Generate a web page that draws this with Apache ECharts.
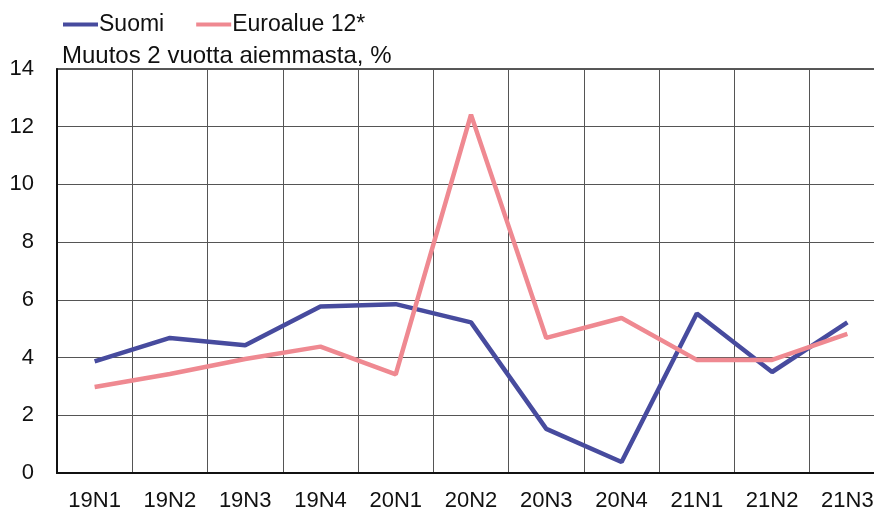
<!DOCTYPE html>
<html>
<head>
<meta charset="utf-8">
<script src="https://cdn.jsdelivr.net/npm/echarts@6/dist/echarts.min.js"></script>
<style>
    html, body { margin: 0; padding: 0; background: #fff; overflow: hidden; }
    /* kuva on rajattu oikealta: piirretään leveämmälle alustalle */
    #chart { width: 885px; height: 512px; }
</style>
</head>
<body>
<div id="chart"></div>
<script>
// neljännekset
const categories = ['19N1', '19N2', '19N3', '19N4', '20N1', '20N2', '20N3', '20N4', '21N1', '21N2', '21N3'];
// muutos 2 vuotta aiemmasta, %
const suomi = [3.87, 4.68, 4.43, 5.77, 5.85, 5.22, 1.53, 0.38, 5.53, 3.5, 5.22];
const euroalue = [2.98, 3.43, 3.95, 4.38, 3.42, 12.42, 4.68, 5.37, 3.92, 3.92, 4.82];
const yTicks = [0, 2, 4, 6, 8, 10, 12, 14];

const font = 'Liberation Sans, Arial, sans-serif';
const chart = echarts.init(document.getElementById('chart'));

let option = {
    animation: false,
    backgroundColor: '#fff',
    textStyle: { fontFamily: font },
    title: {
        text: 'Muutos 2 vuotta aiemmasta, %',
        left: 57,
        top: 39,
        textStyle: { fontSize: 24, fontWeight: 'normal', color: '#111', fontFamily: font }
    },
    legend: {
        left: 58,
        top: 8,
        icon: 'rect',
        itemWidth: 35,
        itemHeight: 4,
        itemGap: 32,
        textStyle: { fontSize: 23, color: '#111', fontFamily: font, padding: [0, 0, 0, -4] },
        data: ['Suomi', 'Euroalue 12*']
    },
    grid: {
        left: 57,
        top: 69,
        right: 0,
        bottom: 39,
        show: true,
        borderColor: '#222',
        borderWidth: 1.5
    },
    xAxis: {
        type: 'category',
        data: categories,
        boundaryGap: true,
        axisLine: { lineStyle: { color: '#111', width: 2 } },
        axisTick: { show: false },
        axisLabel: { fontSize: 22, color: '#111', margin: 17, interval: 0 },
        splitLine: { show: true, interval: 0, lineStyle: { color: '#555', width: 1 } }
    },
    yAxis: {
        type: 'value',
        min: yTicks[0],
        max: yTicks[yTicks.length - 1],
        interval: 2,
        axisLine: { show: true, lineStyle: { color: '#111', width: 2 } },
        axisTick: { show: false },
        axisLabel: { fontSize: 22, color: '#111', margin: 23 },
        splitLine: { lineStyle: { color: '#555', width: 1 } }
    },
    series: [
        {
            name: 'Suomi',
            type: 'line',
            data: suomi,
            symbol: 'none',
            color: '#474b9e',
            lineStyle: { width: 4.5, color: '#474b9e' }
        },
        {
            name: 'Euroalue 12*',
            type: 'line',
            data: euroalue,
            symbol: 'none',
            color: '#ef8991',
            lineStyle: { width: 4.5, color: '#ef8991' }
        }
    ]
};

chart.setOption(option);
</script>
</body>
</html>
